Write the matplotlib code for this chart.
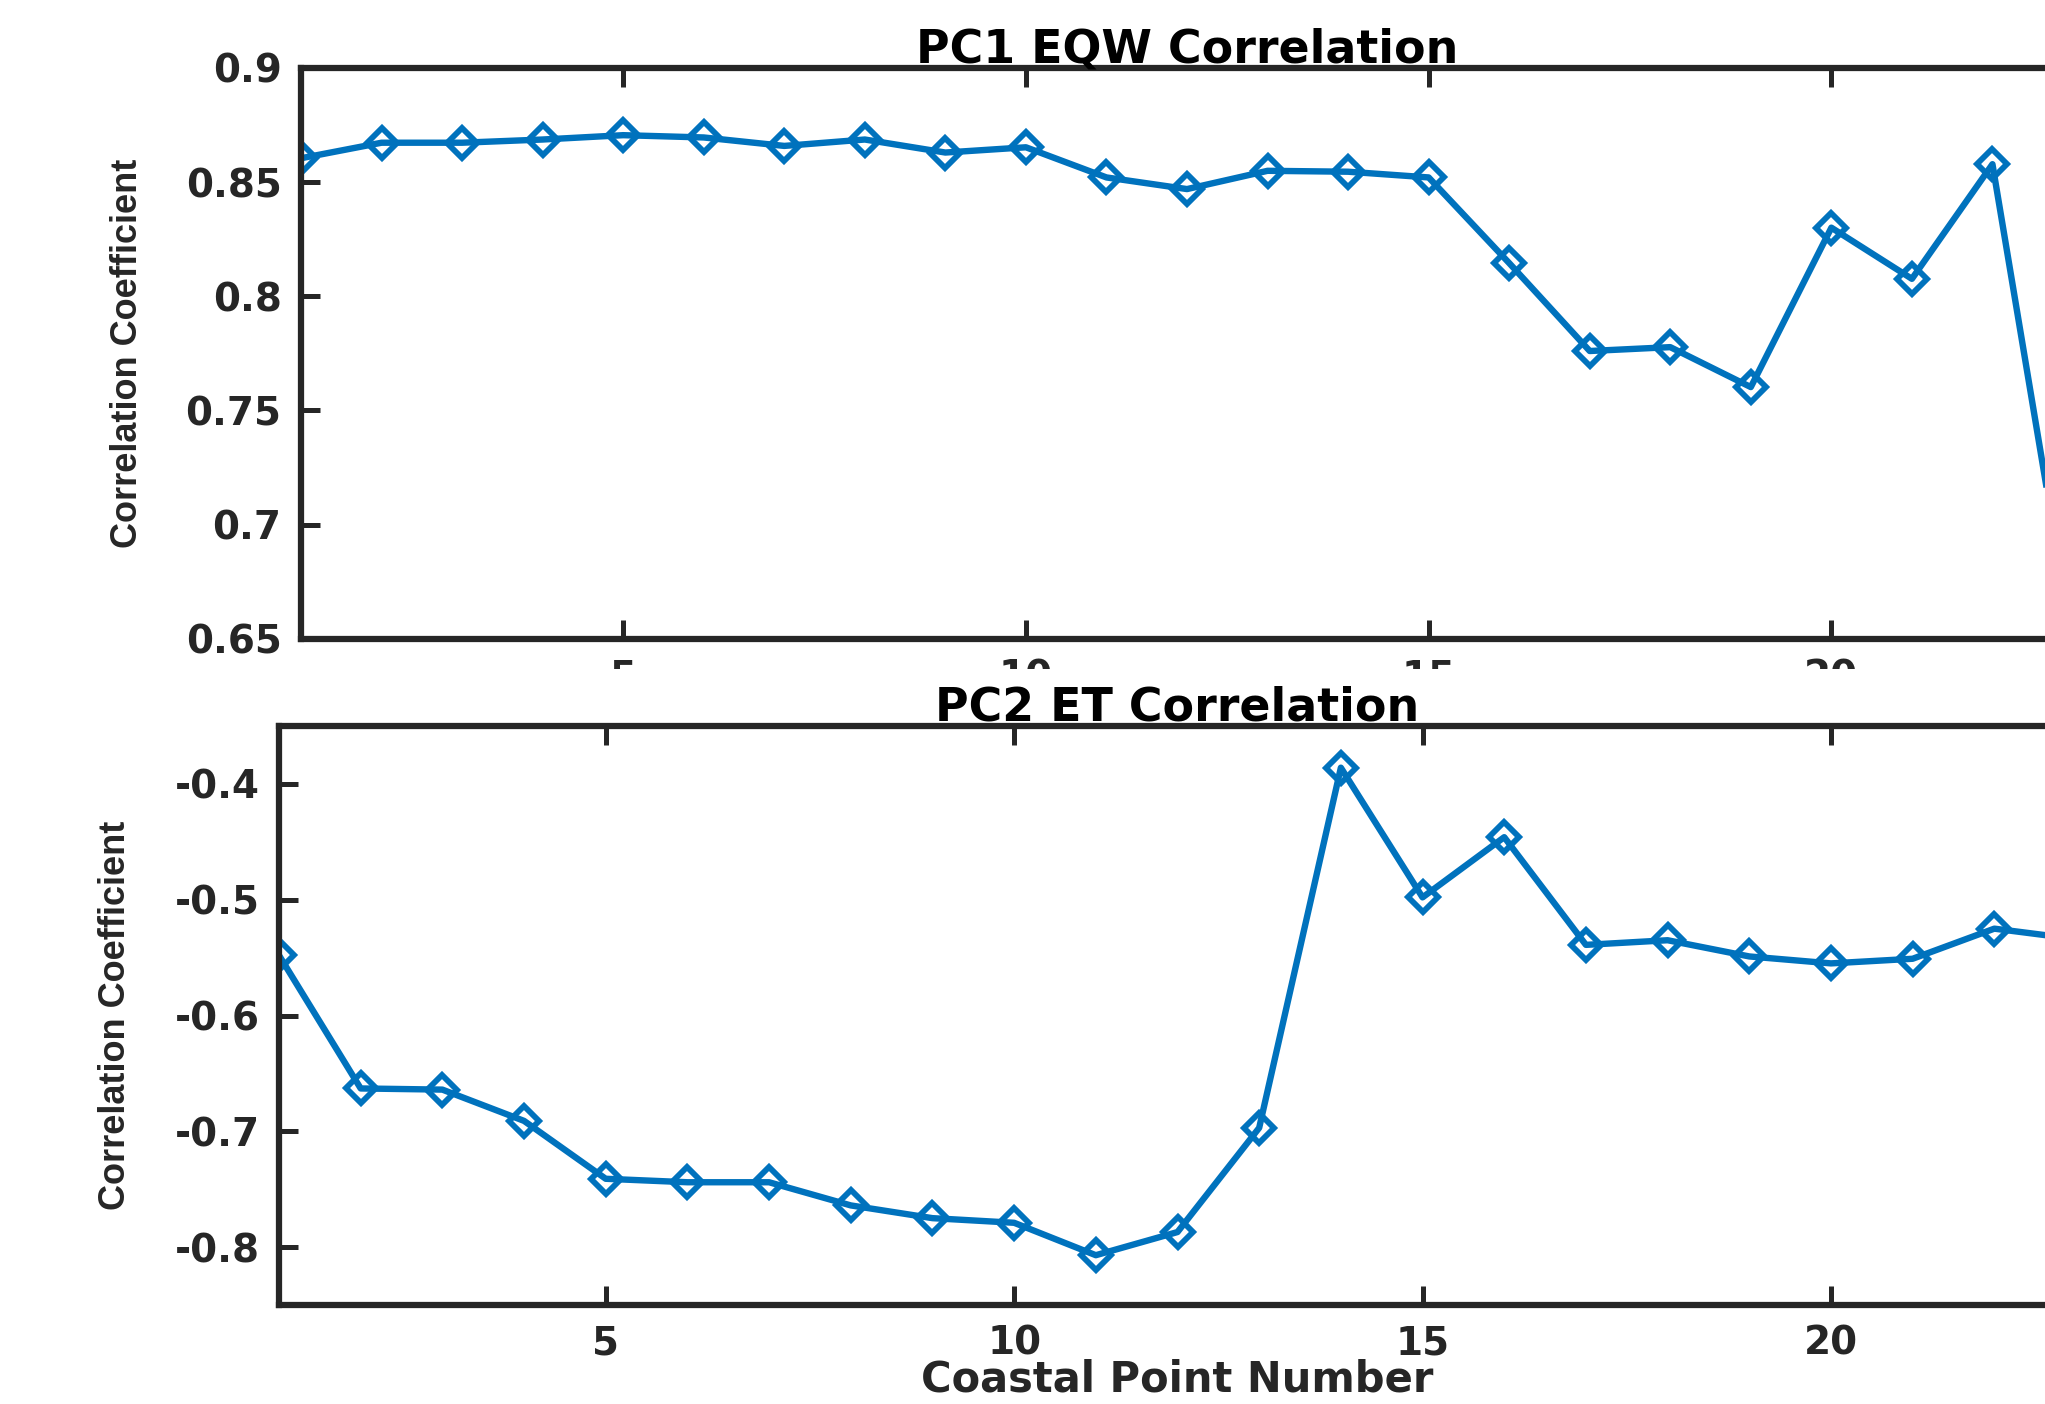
import matplotlib
matplotlib.use("Agg")
import matplotlib.pyplot as plt
from matplotlib.patches import Rectangle

# ---------------- data ----------------
points = list(range(1, 24))
pc1_eqw = [0.8604, 0.8672, 0.8672, 0.8686, 0.8705, 0.8695, 0.8658, 0.8686,
           0.8629, 0.8652, 0.8520, 0.8469, 0.8549, 0.8545, 0.8520, 0.8145,
           0.7760, 0.7777, 0.7602, 0.8300, 0.8076, 0.8578, 0.6470]
pc2_et = [-0.548, -0.663, -0.664, -0.691, -0.741, -0.744, -0.744, -0.764,
          -0.775, -0.779, -0.807, -0.787, -0.697, -0.386, -0.498, -0.446,
          -0.539, -0.535, -0.549, -0.555, -0.551, -0.525, -0.534]
xticks = [5, 10, 15, 20]
xtick_labels = ["5", "10", "15", "20"]
top_yticks = [0.65, 0.7, 0.75, 0.8, 0.85, 0.9]
top_ytick_labels = ["0.65", "0.7", "0.75", "0.8", "0.85", "0.9"]
bot_yticks = [-0.8, -0.7, -0.6, -0.5, -0.4]
bot_ytick_labels = ["-0.8", "-0.7", "-0.6", "-0.5", "-0.4"]
titles = ["PC1 EQW Correlation", "PC2 ET Correlation"]
ylabel_text = "Correlation Coefficient"
xlabel_text = "Coastal Point Number"

# ---------------- style ----------------
BLUE = "#0072BD"
DARK = "#262626"
W, H = 2045, 1404
fig = plt.figure(figsize=(W / 100, H / 100), dpi=100)
fig.patch.set_facecolor("white")

tick_font = dict(family=["DejaVu Sans"], weight="bold", size=28)
title_font = dict(family=["DejaVu Sans"], weight="bold", size=33)
ylab_font = dict(family=["Liberation Sans"], weight="bold", size=26)


def style_axes(ax, yticks, ylabels, ylim, ylab_x):
    ax.set_xlim(1, 23)
    ax.set_ylim(*ylim)
    ax.set_xticks(xticks)
    ax.set_xticklabels(xtick_labels, **tick_font, color=DARK)
    ax.set_yticks(yticks)
    ax.set_yticklabels(ylabels, **tick_font, color=DARK)
    ax.tick_params(direction="in", length=14, width=3.6, color=DARK,
                   top=True, right=True, pad=14)
    for s in ax.spines.values():
        s.set_linewidth(4.5)
        s.set_color(DARK)
    ax.set_ylabel(ylabel_text, **ylab_font, color=DARK)
    ax.yaxis.label.set_verticalalignment("center")
    ax.yaxis.set_label_coords(ylab_x, 0.5)


line_kw = dict(color=BLUE, lw=4.6, marker="D", ms=15, mfc="none",
               mec=BLUE, mew=4.2)

# top axes
ax1 = fig.add_axes([301 / W, 1 - 638.8 / H, 1772 / W, 571 / H], zorder=0)
ax1.plot(points, pc1_eqw, **line_kw)
style_axes(ax1, top_yticks, top_ytick_labels, (0.65, 0.9), -0.098)
ax1.set_title(titles[0], **title_font, color="black", pad=4)

# white band covering the lower part of the top tick labels
fig.add_artist(Rectangle((0, 0), 1, 1 - 669 / H, transform=fig.transFigure,
                         facecolor="white", edgecolor="none", zorder=0.5))

# bottom axes
ax2 = fig.add_axes([279 / W, 1 - 1305 / H, 1797 / W, 579 / H], zorder=1)
ax2.plot(points, pc2_et, **line_kw)
style_axes(ax2, bot_yticks, bot_ytick_labels, (-0.85, -0.35), -0.091)
ax2.set_title(titles[1], **title_font, color="black", pad=4)
ax2.set_xlabel(xlabel_text, family=["DejaVu Sans"], weight="bold", size=30,
               color=DARK)
ax2.xaxis.label.set_verticalalignment("baseline")
ax2.xaxis.set_label_coords(0.5, -0.150)

fig.savefig("out.png", dpi=100)
